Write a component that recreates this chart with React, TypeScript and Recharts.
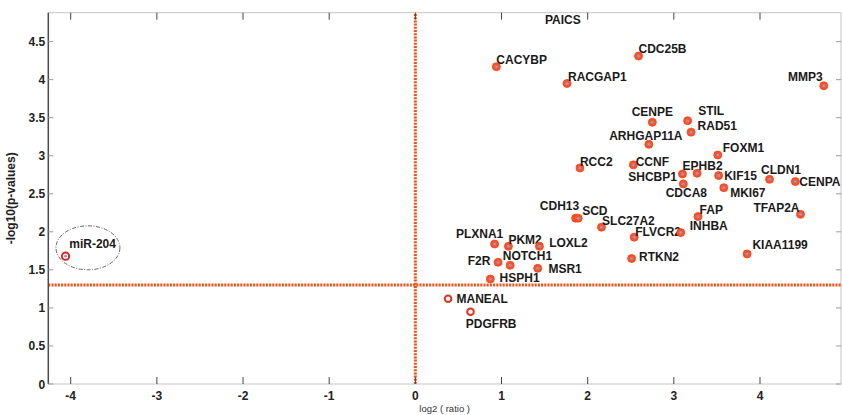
import {
  ScatterChart, Scatter, XAxis, YAxis, ReferenceLine, ReferenceDot, Label,
} from 'recharts'

// gene names, log2 fold change and -log10(p)
const GENES = [
  'PAICS', 'CDC25B', 'CACYBP', 'RACGAP1', 'MMP3', 'CENPE', 'STIL', 'RAD51',
  'ARHGAP11A', 'FOXM1', 'RCC2', 'CCNF', 'SHCBP1', 'EPHB2', 'KIF15', 'CLDN1',
  'CENPA', 'CDCA8', 'MKI67', 'CDH13', 'SCD', 'SLC27A2', 'FAP', 'TFAP2A',
  'FLVCR2', 'INHBA', 'PLXNA1', 'PKM2', 'LOXL2', 'KIAA1199', 'NOTCH1', 'F2R',
  'RTKN2', 'MSR1', 'HSPH1', 'MANEAL', 'PDGFRB', 'miR-204',
]
const LOG2_RATIO = [
  1.70, 2.59, 0.94, 1.76, 4.74, 2.75, 3.16, 3.20,
  2.71, 3.51, 1.91, 2.53, 3.10, 3.27, 3.52, 4.11,
  4.41, 3.11, 3.58, 1.86, 1.89, 2.16, 3.28, 4.47,
  2.54, 3.08, 0.92, 1.08, 1.44, 3.85, 1.10, 0.96,
  2.51, 1.42, 0.87, 0.38, 0.64, -4.06,
]
const NEG_LOG10_P = [
  5.05, 4.31, 4.17, 3.95, 3.92, 3.44, 3.46, 3.31,
  3.15, 3.01, 2.84, 2.88, 2.76, 2.77, 2.74, 2.69,
  2.66, 2.63, 2.58, 2.18, 2.18, 2.06, 2.20, 2.23,
  1.93, 1.99, 1.84, 1.81, 1.81, 1.71, 1.56, 1.60,
  1.65, 1.52, 1.38, 1.12, 0.95, 1.68,
]
const X_TICKS = [-4, -3, -2, -1, 0, 1, 2, 3, 4]
const Y_TICKS = [0, 0.5, 1, 1.5, 2, 2.5, 3, 3.5, 4, 4.5]
const P_CUTOFF = 1.3 // -log10(0.05)
const HIGHLIGHT_CENTER = { x: -3.8, y: 1.79 }

const X_MIN = -4.26, X_MAX = 4.94
const Y_MIN = 0, Y_MAX = 4.88

// label placement around each point: anchor, dx, dy (px)
const LABEL_AT: Record<string, [string, number, number]> = {
  PAICS: ['middle', 1, 20], CDC25B: ['start', 0, -7], CACYBP: ['start', 0, -7],
  RACGAP1: ['start', 1, -7], MMP3: ['end', -1, -9], CENPE: ['middle', 0, -11],
  STIL: ['start', 10.5, -10], RAD51: ['start', 6.5, -6.5], ARHGAP11A: ['middle', -3, -8.5],
  FOXM1: ['start', 5, -7.5], RCC2: ['start', 0, -6.5], CCNF: ['start', 2.3, -3.3],
  SHCBP1: ['end', -5.5, 3], EPHB2: ['middle', 5.5, -7.5], KIF15: ['start', 5.5, 0],
  CLDN1: ['middle', 11.5, -9.3], CENPA: ['start', 4, 0], CDCA8: ['middle', 3, 8.7],
  MKI67: ['start', 6.4, 4.7], CDH13: ['end', 3.6, -12.7], SCD: ['start', 4, -7],
  SLC27A2: ['start', 0.6, -6.8], FAP: ['start', 1.6, -6.7], TFAP2A: ['end', -1, -6.7],
  FLVCR2: ['start', 1, -5.8], INHBA: ['start', 9, -6.7], PLXNA1: ['end', 8.6, -10.7],
  PKM2: ['start', 0, -6.7], LOXL2: ['start', 9.7, -3.7], KIAA1199: ['start', 5.3, -9],
  NOTCH1: ['start', -7.4, -10], F2R: ['end', -7.7, -1.3], RTKN2: ['start', 7.4, -1.4],
  MSR1: ['start', 10.7, 0], HSPH1: ['start', 9.3, -1], MANEAL: ['start', 8.4, 0],
  PDGFRB: ['start', -4.7, 12], 'miR-204': ['start', 3.7, -12.3],
}
const OPEN_MARKERS = ['MANEAL', 'PDGFRB']
const RING_MARKERS = ['miR-204']

const W = 842, H = 415
const M = { top: 12.7, right: 1, bottom: 0, left: 0 }
const Y_AXIS_W = 48.3
const X_AXIS_H = 31
const PLOT_RIGHT = W - M.right
const PLOT_TOP = M.top
const FONT = 'Arial, "Liberation Sans", sans-serif'

const points = GENES.map((gene, i) => ({ gene, x: LOG2_RATIO[i], y: NEG_LOG10_P[i] }))

const GeneMarker = (props: any) => {
  const { cx, cy, payload } = props
  const [anchor, dx, dy] = LABEL_AT[payload.gene] ?? ['start', 4, -7]
  const offPlot = payload.y > Y_MAX
  let mark = (
    <g>
      <circle cx={cx} cy={cy} r={4} fill="#ff5226" stroke="#ff3d0a" strokeWidth={0.8} />
      <circle cx={cx} cy={cy} r={1.5} fill="#8a98dc" />
    </g>
  )
  if (OPEN_MARKERS.includes(payload.gene)) {
    mark = <circle cx={cx} cy={cy} r={3.3} fill="#fff" stroke="#e2301c" strokeWidth={2} />
  } else if (RING_MARKERS.includes(payload.gene)) {
    mark = (
      <g>
        <circle cx={cx} cy={cy} r={3.6} fill="#fff" stroke="#d8261a" strokeWidth={2} />
        <circle cx={cx} cy={cy} r={1.4} fill="#7f8fd6" />
      </g>
    )
  }
  return (
    <g>
      {!offPlot && mark}
      <text x={cx + dx} y={cy + dy + 4.3} textAnchor={anchor as any}
        fontFamily={FONT} fontSize={12} fontWeight="bold" fill="#1a1a1a">
        {payload.gene}
      </text>
    </g>
  )
}

const YTick = ({ x, y, payload }: any) => (
  <g>
    <line x1={x} x2={x + 5} y1={y} y2={y} stroke="#9a9a9a" />
    <line x1={PLOT_RIGHT - 5} x2={PLOT_RIGHT} y1={y} y2={y} stroke="#9a9a9a" />
    <text x={x - 3} y={y + 4.5} textAnchor="end" fontFamily={FONT} fontSize={12}
      fontWeight="bold" fill="#222">{payload.value}</text>
  </g>
)

const XTick = ({ x, y, payload }: any) => (
  <g>
    <line x1={x} x2={x} y1={y} y2={y - 7} stroke="#444" />
    <line x1={x} x2={x} y1={PLOT_TOP} y2={PLOT_TOP + 7} stroke="#444" />
    <text x={x} y={y + 15.5} textAnchor="middle" fontFamily={FONT} fontSize={12}
      fontWeight="bold" fill="#222">{payload.value}</text>
  </g>
)

const Ellipse = ({ cx, cy }: any) => (
  <ellipse cx={cx} cy={cy} rx={32} ry={22} fill="none" stroke="#666"
    strokeWidth={1} strokeDasharray="4 1.5 1 1.5" />
)

export default function App() {
  return (
    <div style={{ position: 'absolute', left: 0, top: 0, background: '#fff' }}>
      <ScatterChart width={W} height={H} margin={M}>
        <XAxis type="number" dataKey="x" domain={[X_MIN, X_MAX]} allowDataOverflow
          ticks={X_TICKS} height={X_AXIS_H} tickSize={0} tickMargin={0} tickLine={false}
          axisLine={{ stroke: '#c4c4c4' }} tick={<XTick />} interval={0}>
          <Label content={({ viewBox }: any) => (
            <text x={viewBox.x + viewBox.width / 2} y={411.5} textAnchor="middle"
              fontFamily={FONT} fontSize={9.5} fill="#333">log2 ( ratio )</text>
          )} />
        </XAxis>
        <YAxis type="number" dataKey="y" domain={[Y_MIN, Y_MAX]} allowDataOverflow
          ticks={Y_TICKS} width={Y_AXIS_W} tickSize={0} tickMargin={0} tickLine={false}
          axisLine={{ stroke: '#4a4a4a', strokeWidth: 1.5 }} tick={<YTick />} interval={0}>
          <Label content={({ viewBox }: any) => {
            const lx = viewBox.x + viewBox.width - 33, ly = viewBox.y + viewBox.height / 2
            return (
              <text x={lx} y={ly} transform={`rotate(-90, ${lx}, ${ly})`} textAnchor="middle"
                fontFamily={FONT} fontSize={12} fontWeight="bold" fill="#222">-log10(p-values)</text>
            )
          }} />
        </YAxis>
        <ReferenceLine y={Y_MAX} stroke="#c4c4c4" />
        <ReferenceLine x={X_MAX} stroke="#c4c4c4" />
        <ReferenceLine x={0} stroke="#ff4a12" strokeWidth={3} strokeDasharray="2 1.2" />
        <ReferenceLine y={P_CUTOFF} stroke="#ff4a12" strokeWidth={3} strokeDasharray="2 1.2" />
        <ReferenceDot x={HIGHLIGHT_CENTER.x} y={HIGHLIGHT_CENTER.y} shape={<Ellipse />} />
        <Scatter data={points} shape={<GeneMarker />} isAnimationActive={false} />
      </ScatterChart>
    </div>
  )
}
